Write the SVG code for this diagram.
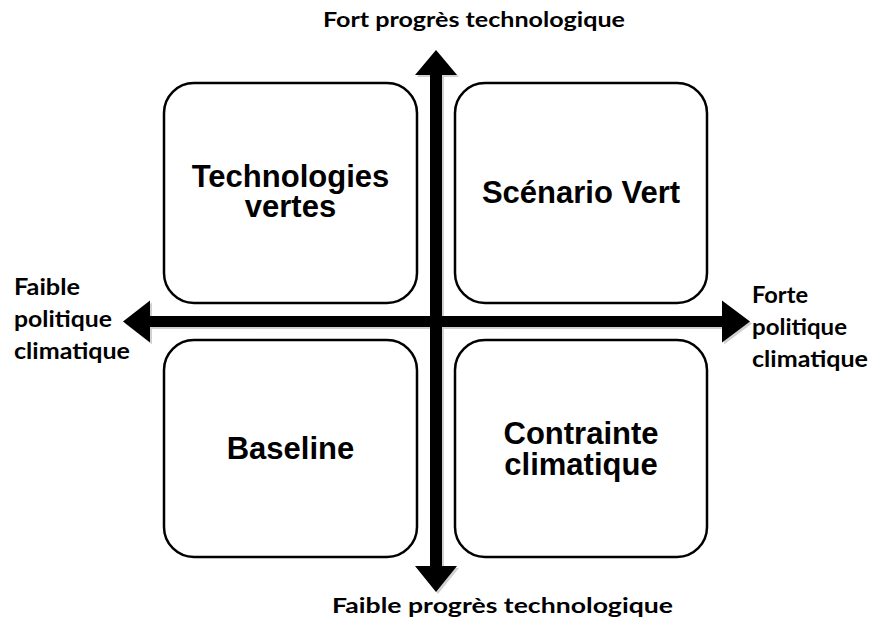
<svg xmlns="http://www.w3.org/2000/svg" width="872" height="628" viewBox="0 0 872 628">
<defs>
<style>
.box{fill:#fff;stroke:#000;stroke-width:2.5}
.lbl{font-family:"Liberation Sans",Arial,sans-serif;font-weight:bold;font-size:31px;fill:#000;text-anchor:middle}
.ax{font-family:Lato,"Open Sans","Liberation Sans",sans-serif;font-weight:bold;font-size:20px;fill:#000}
.sd{font-family:Lato,"Open Sans","Liberation Sans",sans-serif;font-weight:bold;font-size:23px;fill:#000}
.arr{fill:#000}
.sh{fill:#000;opacity:0.18}
</style>
</defs>
<rect width="872" height="628" fill="#fff"/>
<g id="node-tech-vertes">
<rect class="box" x="164" y="83" width="253" height="220" rx="30"/>
<text class="lbl" x="290.5" y="187">Technologies</text>
<text class="lbl" x="290.5" y="217">vertes</text>
</g>
<g id="node-scenario-vert">
<rect class="box" x="455" y="83" width="252" height="220" rx="30"/>
<text class="lbl" x="581" y="203">Scénario Vert</text>
</g>
<g id="node-baseline">
<rect class="box" x="164" y="340" width="253" height="217" rx="30"/>
<text class="lbl" x="290.5" y="459">Baseline</text>
</g>
<g id="node-contrainte">
<rect class="box" x="455" y="340" width="252" height="217" rx="30"/>
<text class="lbl" x="581" y="444">Contrainte</text>
<text class="lbl" x="581" y="475">climatique</text>
</g>
<g id="connectors">
<g transform="translate(2,2)" class="sh">
<polygon points="436,50 457,75 442,75 442,566 457,566 436,592 415,566 430,566 430,75 415,75"/>
<polygon points="123,321.5 150,300.5 150,316 722,316 722,300.5 750,321.5 722,342.5 722,327 150,327 150,342.5"/>
</g>
<polygon class="arr" points="436,50 457,75 442,75 442,566 457,566 436,592 415,566 430,566 430,75 415,75"/>
<polygon class="arr" points="123,321.5 150,300.5 150,316 722,316 722,300.5 750,321.5 722,342.5 722,327 150,327 150,342.5"/>
</g>
<g id="axis-labels">
<text class="ax" x="323" y="27" textLength="302" lengthAdjust="spacingAndGlyphs">Fort progrès technologique</text>
<text class="ax" x="332" y="613" textLength="341" lengthAdjust="spacingAndGlyphs">Faible progrès technologique</text>
<text class="sd" x="14" y="295" textLength="66" lengthAdjust="spacingAndGlyphs">Faible</text>
<text class="sd" x="14" y="327" textLength="98" lengthAdjust="spacingAndGlyphs">politique</text>
<text class="sd" x="14" y="359" textLength="116" lengthAdjust="spacingAndGlyphs">climatique</text>
<text class="sd" x="752" y="303" textLength="56" lengthAdjust="spacingAndGlyphs">Forte</text>
<text class="sd" x="752" y="335" textLength="95" lengthAdjust="spacingAndGlyphs">politique</text>
<text class="sd" x="752" y="367" textLength="116" lengthAdjust="spacingAndGlyphs">climatique</text>
</g>
</svg>
